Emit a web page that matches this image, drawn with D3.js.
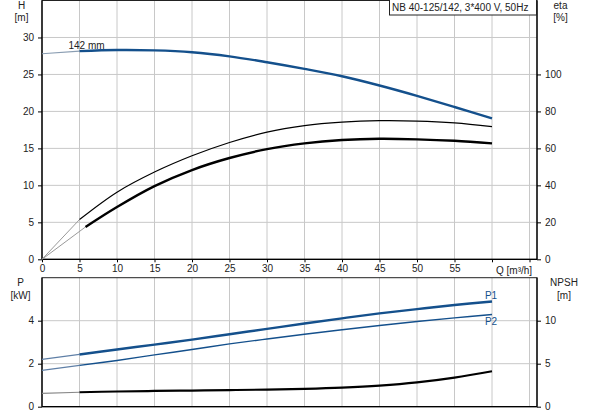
<!DOCTYPE html>
<html>
<head>
<meta charset="utf-8">
<script src="https://cdn.jsdelivr.net/npm/d3@7"></script>
<style>
  html, body { margin: 0; padding: 0; background: #fff; }
  svg { display: block; font-family: "Liberation Sans", Arial, sans-serif; }
  text { fill: #222; font-size: 10px; }
</style>
</head>
<body>
<svg id="chart" width="593" height="415"></svg>
<script>
// ---- data ----
const q        = [0, 5, 10, 15, 20, 25, 30, 35, 40, 45, 50, 55, 60];
const head     = [27.8, 28.15, 28.3, 28.25, 28.0, 27.45, 26.65, 25.75, 24.75, 23.5, 22.1, 20.6, 19.05];
const etaPump  = [0, 21.5, 36.3, 47.2, 56.0, 63.2, 68.8, 72.3, 74.2, 75.0, 74.8, 73.8, 71.8];
const qEtaTot  = [0, 5.8, 10, 15, 20, 25, 30, 35, 40, 45, 50, 55, 60];
const etaTotal = [0, 17.5, 28.3, 39.6, 48.3, 54.8, 59.6, 62.7, 64.5, 65.2, 64.9, 64.1, 62.7];
const p1       = [2.2, 2.43, 2.66, 2.89, 3.12, 3.37, 3.62, 3.87, 4.11, 4.34, 4.54, 4.73, 4.89];
const p2       = [1.69, 1.92, 2.15, 2.41, 2.66, 2.92, 3.15, 3.37, 3.58, 3.78, 3.96, 4.13, 4.29];
const npsh     = [1.55, 1.68, 1.77, 1.83, 1.88, 1.93, 1.99, 2.08, 2.22, 2.45, 2.82, 3.38, 4.12];

const qTicks     = [0, 5, 10, 15, 20, 25, 30, 35, 40, 45, 50, 55, 60, 65];
const qLabels    = [0, 5, 10, 15, 20, 25, 30, 35, 40, 45, 50, 55];
const hTicks     = [0, 5, 10, 15, 20, 25, 30];
const etaTicks   = [0, 20, 40, 60, 80, 100];
const pTicks     = [0, 2, 4];
const npshTicks  = [0, 5, 10];
const title      = "NB 40-125/142, 3*400 V, 50Hz";
const curveLabel = "142 mm";

// ---- layout ----
const svg = d3.select("#chart");
const L = 42, R = 537;
const topT = 0.5, topB = 259.3;
const botT = 277.7, botB = 406.7;

const x = d3.scaleLinear().domain([0, 66]).range([L, R]);
const yH = d3.scaleLinear().domain([0, 35]).range([topB, topT]);
const yEta = d3.scaleLinear().domain([0, 140]).range([topB, topT]);
const yP = d3.scaleLinear().domain([0, 6]).range([botB, botT]);
const yN = d3.scaleLinear().domain([0, 15]).range([botB, botT]);

const gridColor = "#c8c8c8";
const blue = "#14508c";

function grid(yScale, yVals, t, b) {
  const g = svg.append("g");
  g.selectAll(".v").data(qTicks.filter(d => d > 0)).enter().append("line")
    .attr("x1", d => x(d)).attr("x2", d => x(d)).attr("y1", t).attr("y2", b)
    .attr("stroke", gridColor).attr("stroke-width", 1);
  g.selectAll(".h").data(yVals).enter().append("line")
    .attr("x1", L).attr("x2", R).attr("y1", d => yScale(d)).attr("y2", d => yScale(d))
    .attr("stroke", gridColor).attr("stroke-width", 1);
}
grid(yH, [5, 10, 15, 20, 25, 30], topT, topB);
grid(yP, [2, 4], botT, botB);

// frames
function frame(t, b) {
  svg.append("rect").attr("x", L).attr("y", t).attr("width", R - L).attr("height", b - t)
    .attr("fill", "none").attr("stroke", "#222").attr("stroke-width", 1);
}
frame(topT, topB);
frame(botT, botB);

// ---- axes ----
const fmt = d3.format("~g");
function styleAxis(g) {
  g.selectAll(".tick line").attr("stroke", "#000");
  g.selectAll(".tick text").attr("fill", "#222").style("font-size", "10px")
    .style("font-family", '"Liberation Sans", Arial, sans-serif');
}
svg.append("g").attr("transform", `translate(0,${topB})`)
  .call(d3.axisBottom(x).tickValues(qTicks).tickSizeOuter(0).tickSize(3).tickPadding(3)
    .tickFormat(d => qLabels.includes(d) ? fmt(d) : ""))
  .call(styleAxis);
svg.append("text").attr("x", x(60) + 4).attr("y", 274).text("Q [m³/h]");

svg.append("g").attr("transform", `translate(${L},0)`)
  .call(d3.axisLeft(yH).tickValues(hTicks).tickFormat(fmt).tickSizeOuter(0).tickSize(4).tickPadding(4))
  .call(styleAxis);
svg.append("g").attr("transform", `translate(${R},0)`)
  .call(d3.axisRight(yEta).tickValues(etaTicks).tickFormat(fmt).tickSizeOuter(0).tickSize(4).tickPadding(4))
  .call(styleAxis);
svg.append("g").attr("transform", `translate(${L},0)`)
  .call(d3.axisLeft(yP).tickValues(pTicks).tickFormat(fmt).tickSizeOuter(0).tickSize(4).tickPadding(4))
  .call(styleAxis);
svg.append("g").attr("transform", `translate(${R},0)`)
  .call(d3.axisRight(yN).tickValues(npshTicks).tickFormat(fmt).tickSizeOuter(0).tickSize(4).tickPadding(4))
  .call(styleAxis);
svg.selectAll(".domain").remove();
// axis lines
[[L, topT, L, topB], [R, topT, R, topB], [L, topB, R, topB],
 [L, botT, L, botB], [R, botT, R, botB], [L, botB, R, botB]].forEach(s => {
  svg.append("line").attr("x1", s[0]).attr("y1", s[1]).attr("x2", s[2]).attr("y2", s[3])
    .attr("stroke", "#000").attr("stroke-width", 1.2);
});

// axis titles
function label(txt, cx, y) {
  svg.append("text").attr("x", cx).attr("y", y).attr("text-anchor", "middle").text(txt);
}
label("H", 21.5, 9); label("[m]", 21.5, 21);
label("eta", 560.5, 9); label("[%]", 560.5, 21);
label("P", 20.5, 286); label("[kW]", 20.5, 298.5);
label("NPSH", 564, 286); label("[m]", 564, 298.5);

// ---- curves ----
function drawSeries(qs, vs, yScale, color, width, extColor, extWidth) {
  const pts = qs.map((d, i) => [x(d), yScale(vs[i])]);
  const ext = d3.line().curve(d3.curveLinear);
  const main = d3.line().curve(d3.curveCatmullRom.alpha(0.5));
  svg.append("path").attr("d", ext(pts.slice(0, 2))).attr("fill", "none")
    .attr("stroke", extColor).attr("stroke-width", extWidth);
  svg.append("path").attr("d", main(pts.slice(1))).attr("fill", "none")
    .attr("stroke", color).attr("stroke-width", width).attr("stroke-linecap", "butt");
}
drawSeries(q, etaPump, yEta, "#000", 1.2, "#999", 1);
drawSeries(qEtaTot, etaTotal, yEta, "#000", 2.4, "#999", 1);
drawSeries(q, head, yH, blue, 2.4, "#8a9db2", 1.2);
drawSeries(q, p1, yP, blue, 2.4, "#5f7fa6", 1.3);
drawSeries(q, p2, yP, blue, 1.4, "#5f7fa6", 1.3);
drawSeries(q, npsh, yN, "#000", 2.2, "#888", 1.2);

// curve labels
svg.append("text").attr("x", 68.5).attr("y", 48.5).text(curveLabel);
svg.append("text").attr("x", x(60) - 1).attr("y", 299).attr("text-anchor", "middle")
  .style("fill", blue).text("P1");
svg.append("text").attr("x", x(60) - 1).attr("y", 325).attr("text-anchor", "middle")
  .style("fill", blue).text("P2");

// title box
const tb = svg.append("g");
tb.append("rect").attr("x", 389.5).attr("y", -1).attr("width", 147).attr("height", 16)
  .attr("fill", "#fff").attr("stroke", "#222").attr("stroke-width", 1);
tb.append("text").attr("x", 392).attr("y", 11).text(title);
</script>
</body>
</html>
